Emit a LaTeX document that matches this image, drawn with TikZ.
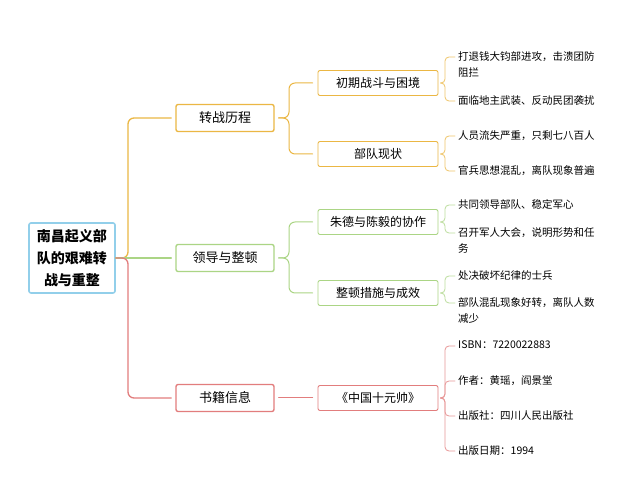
\documentclass[tikz,border=0pt]{standalone}
\usepackage{fontspec}
\newfontfamily\cjk{Noto Sans CJK SC}
\definecolor{cOrange}{HTML}{EBB744}
\definecolor{cGreen}{HTML}{ABD585}
\definecolor{cRed}{HTML}{E27D7D}
\definecolor{cBlue}{HTML}{92CFEA}
\tikzset{
  rootbox/.style={draw=cBlue, line width=1.6pt, rounded corners=2pt, fill=white, minimum width=86pt, minimum height=70pt, align=center, font=\cjk\bfseries\fontsize{14}{22}\selectfont},
  topicbox/.style={draw=#1, line width=1.4pt, rounded corners=2pt, minimum width=98pt, minimum height=27pt, font=\cjk\fontsize{13}{15}\selectfont},
  subbox/.style={draw=#1, line width=0.9pt, rounded corners=2pt, minimum width=120pt, minimum height=25pt, font=\cjk\fontsize{12}{14}\selectfont},
  leaf/.style={anchor=north west, inner sep=0pt, align=left, font=\cjk\fontsize{10.5}{16}\selectfont},
  branch/.style={draw=#1, line width=1.3pt, rounded corners=6pt},
  twig/.style={draw=#1!80, line width=0.8pt, rounded corners=4pt},
}
\begin{document}
\begin{tikzpicture}[x=1pt, y=-1pt, line join=round, line cap=round]
	\def\tx{128}\def\bx{289}\def\lx{445}\def\ly{5.5}
	\useasboundingbox[fill=white] (0,0) rectangle (625,500);
	\node[rootbox] (root) at (72,258) {南昌起义部\\队的艰难转\\战与重整};
	\node[topicbox=cOrange] (zhuan) at (225,118) {转战历程};
	\node[topicbox=cGreen] (zhengdun) at (225,258) {领导与整顿};
	\node[topicbox=cRed] (shuji) at (225,398) {书籍信息};
	\node[subbox=cOrange] (chuqi) at (378,83) {初期战斗与困境};
	\node[subbox=cOrange] (xianzhuang) at (378,154) {部队现状};
	\node[subbox=cGreen] (xiezuo) at (378,222) {朱德与陈毅的协作};
	\node[subbox=cGreen] (cuoshi) at (378,293) {整顿措施与成效};
	\node[subbox=cRed] (shuming) at (378,398) {《中国十元帅》};
	\foreach \n/\y/\t in {tuijin/57/{打退钱大钧部进攻，击溃团防\\阻拦}, xirao/101/{面临地主武装、反动民团袭扰},
		liushi/136/{人员流失严重，只剩七八百人}, hunluan/171/{官兵思想混乱，离队现象普遍},
		wending/205/{共同领导部队、稳定军心}, junhui/233/{召开军人大会，说明形势和任\\务},
		chujue/276/{处决破坏纪律的士兵}, haozhuan/303/{部队混乱现象好转，离队人数\\减少},
		isbn/346/{ISBN：7220022883}, zuozhe/381/{作者：黄瑶，阎景堂},
		chuban/416/{出版社：四川人民出版社}, riqi/451/{出版日期：1994}}
		\node[leaf] (\n) at (458,\y-\ly) {\t};
	\draw[branch=cOrange] (root.east) -- (\tx,258) -- (\tx,118) -- ([xshift=-4pt]zhuan.west);
	\draw[branch=cGreen] (root.east) -- ([xshift=-4pt]zhengdun.west);
	\draw[branch=cRed] (root.east) -- (\tx,258) -- (\tx,398) -- ([xshift=-4pt]shuji.west);
	\foreach \s/\y in {chuqi/83,xianzhuang/154}
		\draw[branch=cOrange, line width=1pt] ([xshift=4pt]zhuan.east) -- (\bx,118) -- (\bx,\y) -- ([xshift=-5pt]\s.west);
	\foreach \s/\y in {xiezuo/222,cuoshi/293}
		\draw[branch=cGreen, line width=1pt] ([xshift=4pt]zhengdun.east) -- (\bx,258) -- (\bx,\y) -- ([xshift=-5pt]\s.west);
	\draw[branch=cRed, line width=1pt] ([xshift=4pt]shuji.east) -- ([xshift=-5pt]shuming.west);
	\foreach \n/\y in {tuijin/57,xirao/101}
		\draw[twig=cOrange] ([xshift=2pt]chuqi.east) -- (\lx,83) -- (\lx,\y) -- ([xshift=-3pt,yshift=-\ly pt]\n.north west);
	\foreach \n/\y in {liushi/136,hunluan/171}
		\draw[twig=cOrange] ([xshift=2pt]xianzhuang.east) -- (\lx,154) -- (\lx,\y) -- ([xshift=-3pt,yshift=-\ly pt]\n.north west);
	\foreach \n/\y in {wending/205,junhui/233}
		\draw[twig=cGreen] ([xshift=2pt]xiezuo.east) -- (\lx,222) -- (\lx,\y) -- ([xshift=-3pt,yshift=-\ly pt]\n.north west);
	\foreach \n/\y in {chujue/276,haozhuan/303}
		\draw[twig=cGreen] ([xshift=2pt]cuoshi.east) -- (\lx,293) -- (\lx,\y) -- ([xshift=-3pt,yshift=-\ly pt]\n.north west);
	\foreach \n/\y in {isbn/346,zuozhe/381,chuban/416,riqi/451}
		\draw[twig=cRed] ([xshift=2pt]shuming.east) -- (\lx,398) -- (\lx,\y) -- ([xshift=-3pt,yshift=-\ly pt]\n.north west);
\end{tikzpicture}
\end{document}
